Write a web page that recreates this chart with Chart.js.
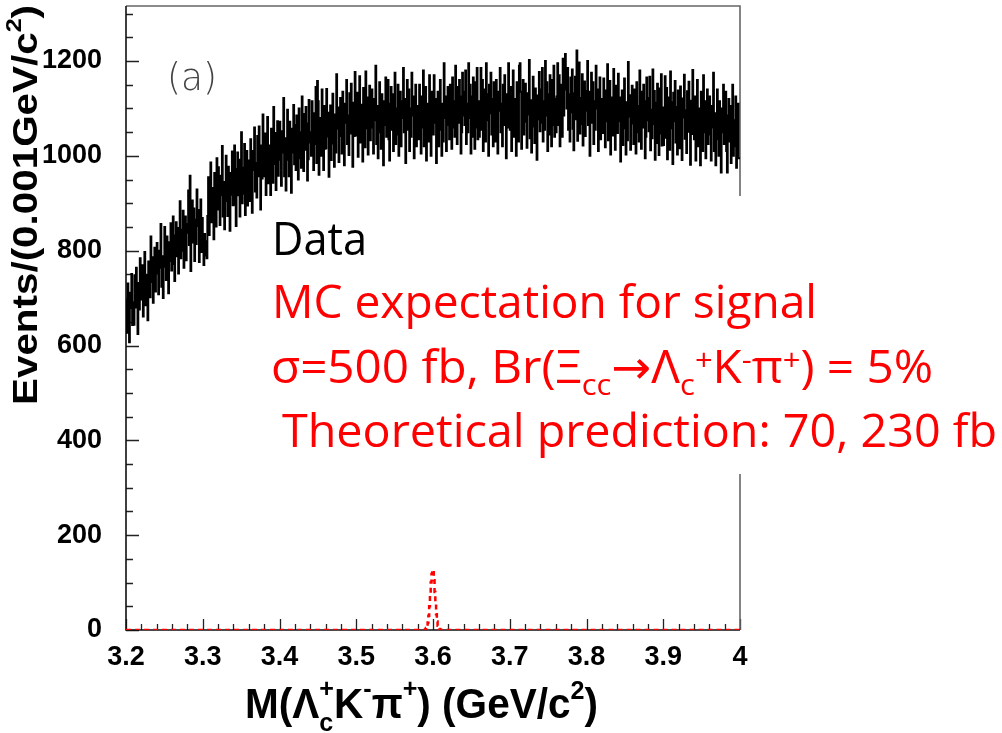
<!DOCTYPE html>
<html>
<head>
<meta charset="utf-8">
<script src="https://cdn.jsdelivr.net/npm/chart.js@4.4.1/dist/chart.umd.min.js"></script>
<style>
  html, body { margin: 0; padding: 0; background: #fff; }
  #wrap { position: relative; width: 1002px; height: 733px; }
</style>
</head>
<body>
<div id="wrap"><canvas id="c" width="1002" height="733"></canvas></div>
<script>
// Histogram binning: 1 MeV bins from 3.2 to 4.0 GeV/c^2
const massMin = 3.2;
const massMax = 4.0;
const binWidth = 0.001;

// Data: events per 1 MeV bin, M(Lambda_c+ K- pi+)
const dataCounts = [
  695, 627, 731, 667, 607, 711, 679, 751, 643, 691, 644, 748, 680, 764, 696, 624, 732, 676, 784, 700,
  697, 769, 661, 737, 797, 685, 749, 713, 653, 777, 758, 702, 830, 734, 786, 690, 766, 806, 714, 754,
  816, 752, 708, 800, 764, 856, 724, 788, 700, 780, 850, 766, 738, 830, 794, 710, 818, 778, 858, 758,
  800, 872, 772, 736, 832, 860, 788, 848, 752, 812, 904, 784, 844, 800, 884, 764, 836, 872, 780, 856,
  838, 927, 812, 958, 757, 834, 906, 817, 889, 778, 865, 814, 929, 852, 886, 776, 840, 908, 797, 869,
  812, 770, 835, 790, 820, 784, 873, 955, 833, 919, 986, 860, 932, 891, 824, 964, 914, 851, 995, 887,
  976, 904, 854, 958, 917, 1021, 872, 945, 845, 936, 1000, 905, 873, 977, 937, 842, 964, 918, 1009, 896,
  932, 1022, 897, 852, 972, 1007, 917, 992, 872, 947, 1050, 900, 975, 920, 1025, 875, 965, 1010, 895, 990,
  990, 905, 1035, 955, 880, 1010, 970, 1060, 925, 985, 912, 1042, 957, 1062, 977, 887, 1022, 952, 1087, 982,
  957, 1047, 912, 1007, 1082, 942, 1022, 977, 902, 1057, 1013, 943, 1103, 983, 1048, 928, 1023, 1073, 958, 1008,
  1072, 992, 937, 1052, 1007, 1122, 957, 1037, 927, 1027, 1097, 992, 957, 1072, 1027, 922, 1057, 1007, 1107, 982,
  1065, 970, 1085, 1040, 950, 1100, 995, 1050, 975, 1125, 1043, 968, 1088, 1013, 1103, 1068, 948, 993, 1118, 1028,
  1050, 1000, 1115, 1065, 970, 1090, 1025, 1145, 985, 1158, 1115, 960, 1035, 1080, 1000, 1140, 1065, 970, 1105, 1015,
  1016, 1141, 1041, 1091, 956, 1061, 1106, 991, 1026, 1131, 1077, 977, 1087, 1007, 1172, 1057, 1102, 987, 1042, 1122,
  1090, 1005, 1135, 1055, 980, 1110, 1070, 1160, 1025, 1085, 1002, 1132, 1047, 1152, 1067, 977, 1112, 1042, 1177, 1072,
  1043, 1133, 998, 1093, 1168, 1028, 1108, 1063, 988, 1143, 1088, 1018, 1178, 1058, 1123, 1003, 1098, 1148, 1033, 1083,
  1140, 1060, 1005, 1120, 1075, 1190, 1025, 1105, 995, 1095, 1155, 1050, 1015, 1130, 1085, 980, 1115, 1065, 1165, 1040,
  1070, 1160, 1035, 990, 1110, 1145, 1055, 1130, 1010, 1085, 1175, 1025, 1100, 1045, 1150, 1000, 1090, 1135, 1020, 1115,
  1080, 1185, 1050, 1120, 985, 1075, 1160, 1055, 1140, 1010, 1100, 1040, 1175, 1085, 1125, 995, 1070, 1150, 1020, 1105,
  1085, 1035, 1150, 1100, 1005, 1125, 1060, 1180, 1020, 1090, 1145, 990, 1065, 1110, 1030, 1170, 1095, 1000, 1135, 1045,
  1045, 1170, 1070, 1120, 985, 1090, 1135, 1020, 1055, 1160, 1100, 1000, 1110, 1030, 1195, 1080, 1125, 1010, 1065, 1145,
  1130, 1035, 1150, 1105, 1015, 1165, 1060, 1115, 1040, 1190, 1100, 1025, 1145, 1070, 1160, 1125, 1005, 1050, 1175, 1085,
  1135, 1065, 1180, 1025, 1110, 1050, 1195, 1080, 1150, 1005, 1125, 1040, 1165, 1100, 1015, 1155, 1060, 1185, 1035, 1115,
  1040, 1115, 1185, 1055, 1160, 1010, 1105, 1140, 1030, 1195, 1075, 1130, 1000, 1150, 1090, 1175, 1045, 1120, 1020, 1155,
  1115, 1030, 1160, 1080, 1005, 1135, 1095, 1185, 1050, 1110, 1020, 1150, 1065, 1170, 1085, 995, 1130, 1060, 1195, 1090,
  1055, 1145, 1010, 1105, 1180, 1040, 1120, 1075, 1000, 1155, 1100, 1030, 1190, 1195, 1135, 1015, 1110, 1160, 1045, 1095,
  1152, 1072, 1017, 1132, 1087, 1202, 1037, 1117, 1007, 1107, 1167, 1062, 1027, 1142, 1097, 992, 1127, 1077, 1177, 1052,
  1140, 1070, 1185, 1030, 1115, 1055, 1200, 1085, 1155, 1010, 1130, 1045, 1170, 1105, 1020, 1160, 1065, 1190, 1040, 1120,
  1050, 1125, 1195, 1065, 1170, 1020, 1115, 1150, 1040, 1205, 1085, 1140, 1215, 1160, 1100, 1185, 1055, 1130, 1030, 1165,
  1092, 1182, 1057, 1012, 1132, 1167, 1077, 1222, 1032, 1107, 1197, 1047, 1122, 1067, 1172, 1022, 1112, 1157, 1042, 1137,
  1095, 1200, 1065, 1135, 1000, 1090, 1175, 1070, 1155, 1025, 1115, 1055, 1190, 1100, 1140, 1010, 1085, 1165, 1035, 1120,
  1098, 1048, 1163, 1113, 1018, 1138, 1073, 1193, 1033, 1103, 1158, 1003, 1078, 1123, 1043, 1183, 1108, 1013, 1148, 1058,
  1048, 1173, 1073, 1123, 988, 1093, 1138, 1023, 1058, 1163, 1103, 1003, 1113, 1033, 1198, 1083, 1128, 1013, 1068, 1148,
  1120, 1025, 1140, 1095, 1005, 1155, 1050, 1105, 1030, 1180, 1090, 1015, 1135, 1060, 1150, 1115, 995, 1040, 1165, 1075,
  1122, 1052, 1167, 1012, 1097, 1037, 1182, 1067, 1137, 992, 1112, 1027, 1152, 1087, 1002, 1142, 1047, 1172, 1022, 1102,
  1023, 1098, 1168, 1038, 1143, 993, 1088, 1123, 1013, 1178, 1058, 1113, 983, 1133, 1073, 1158, 1028, 1103, 1003, 1138,
  1101, 1016, 1146, 1066, 991, 1121, 1081, 1171, 1036, 1096, 1006, 1136, 1051, 1156, 1071, 981, 1116, 1046, 1181, 1076,
  1035, 1125, 990, 1085, 1160, 1020, 1100, 1055, 980, 1135, 1080, 1010, 1170, 1050, 1115, 995, 1090, 1140, 1025, 1075,
  1125, 1045, 990, 1105, 1060, 1175, 1010, 1090, 980, 1080, 1140, 1035, 1000, 1115, 1070, 965, 1100, 1050, 1150, 1025,
  1045, 1135, 1010, 965, 1085, 1120, 1030, 1105, 985, 1060, 1150, 1000, 1075, 1020, 1125, 975, 1065, 1110, 995, 995
];

// MC signal expectation: non-empty bins start at 3.590 GeV (bin 390); all other bins are empty
const mcFirstBin = 390;
const mcCounts = [2, 4, 8, 16, 30, 50, 75, 100, 118, 127, 122, 105, 80, 55, 33, 18, 9, 4, 2, 1];

// Axis ranges and tick spacing
const yMax = 1316;
const yMajorStep = 200;
const yMinorStep = 50;
const xMajorStep = 0.1;
const xMinorStep = 0.02;

// Text
const yTitleRuns = [
  { text: 'Events/(0.001GeV/c' }, { text: '2', scale: 0.62, dy: -0.45 }, { text: ')' }
];
const xTitleRuns = [
  { text: 'M(\u039B' }, { text: '+', scale: 0.62, dy: -0.5 }, { text: 'c', scale: 0.62, dy: 0.3, stack: true },
  { text: 'K' }, { text: '-', scale: 0.62, dy: -0.5 }, { text: '\u03C0' }, { text: '+', scale: 0.62, dy: -0.5 },
  { text: ') (GeV/c' }, { text: '2', scale: 0.62, dy: -0.45 }, { text: ')' }
];
const panelTag = '(a)';
const legendData = 'Data';
const legendMC = 'MC expectation for signal';
const legendSigma = [
  { text: '\u03C3=500 fb, Br(\u039E' }, { text: 'cc', scale: 0.65, dy: 0.26 }, { text: '\u2192\u039B' },
  { text: 'c', scale: 0.65, dy: 0.26 }, { text: '+', scale: 0.65, dy: -0.28 }, { text: 'K' },
  { text: '-', scale: 0.65, dy: -0.28 }, { text: '\u03C0' }, { text: '+', scale: 0.65, dy: -0.28 },
  { text: ') = 5%' }
];
const legendTheory = 'Theoretical prediction: 70, 230 fb';

// Build step-histogram point lists (left bin edges plus the closing edge)
function histPoints(counts) {
  const pts = counts.map((v, i) => ({ x: massMin + i * binWidth, y: v }));
  pts.push({ x: massMax, y: counts[counts.length - 1] });
  return pts;
}
const mcFull = dataCounts.map((_, i) => {
  const k = i - mcFirstBin;
  return (k >= 0 && k < mcCounts.length) ? mcCounts[k] : 0;
});

const tickFont = '"Liberation Sans", Arial, Helvetica, sans-serif';
const noteFont = '"Open Sans", "Noto Sans", "DejaVu Sans", sans-serif';

// Draw a run of text pieces (with sub/superscripts), stretched horizontally to a given width
function richText(ctx, runs, x, y, width, size, family, weight, color, angle) {
  ctx.save();
  ctx.translate(x, y);
  if (angle) ctx.rotate(angle);
  ctx.fillStyle = color;
  ctx.textAlign = 'left';
  ctx.textBaseline = 'alphabetic';
  let pos = 0, lastX = 0, lastW = 0;
  const placed = runs.map(r => {
    const fs = size * (r.scale || 1);
    ctx.font = `${weight} ${fs}px ${family}`;
    const w = ctx.measureText(r.text).width;
    let rx;
    if (r.stack) {
      rx = lastX;
      const nw = Math.max(lastW, w);
      pos += nw - lastW;
      lastW = nw;
    } else {
      rx = pos; lastX = pos; lastW = w; pos += w;
    }
    return { text: r.text, fs, rx, dy: (r.dy || 0) * size };
  });
  const sx = width ? width / pos : 1;
  ctx.scale(sx, 1);
  placed.forEach(p => {
    ctx.font = `${weight} ${p.fs}px ${family}`;
    ctx.fillText(p.text, p.rx, p.dy);
  });
  ctx.restore();
}

// Frame and inward-pointing major/minor ticks, drawn under the histograms
const framePlugin = {
  id: 'frame',
  beforeDatasetsDraw(chart) {
    const ctx = chart.ctx;
    const { left, right, top, bottom } = chart.chartArea;
    const xs = chart.scales.x, ys = chart.scales.y;
    ctx.save();
    ctx.lineWidth = 1.3;
    ctx.strokeStyle = '#222';
    ctx.beginPath();
    for (let k = 0; k * yMinorStep <= yMax; k++) {
      const v = k * yMinorStep;
      const py = Math.round(ys.getPixelForValue(v)) + 0.5;
      const len = (v % yMajorStep === 0) ? 13 : 7;
      ctx.moveTo(left, py); ctx.lineTo(left + len, py);
    }
    const nx = Math.round((massMax - massMin) / xMinorStep);
    for (let k = 0; k <= nx; k++) {
      const px = Math.round(xs.getPixelForValue(massMin + k * xMinorStep)) + 0.5;
      const len = (k % 5 === 0) ? 11 : 6;
      ctx.moveTo(px, bottom); ctx.lineTo(px, bottom - len);
    }
    ctx.stroke();
    // top and right border
    ctx.strokeStyle = '#666';
    ctx.lineWidth = 1.6;
    ctx.beginPath();
    ctx.moveTo(left, top); ctx.lineTo(right, top); ctx.lineTo(right, bottom);
    ctx.stroke();
    // axes
    ctx.strokeStyle = '#111';
    ctx.lineWidth = 1.6;
    ctx.beginPath();
    ctx.moveTo(left, top); ctx.lineTo(left, bottom); ctx.lineTo(right, bottom);
    ctx.stroke();
    ctx.restore();
  }
};

// Legend box, panel tag and axis titles
const notesPlugin = {
  id: 'notes',
  afterDatasetsDraw(chart) {
    const ctx = chart.ctx;
    ctx.save();
    ctx.fillStyle = '#fff';
    ctx.fillRect(262, 196, 740, 278);
    ctx.restore();

    // panel tag
    richText(ctx, [{ text: panelTag }], 167, 90, 50, 37, '"DejaVu Sans", sans-serif', '200', '#444');

    // legend lines
    richText(ctx, [{ text: legendData }], 272, 255, 95, 46, noteFont, '400', '#000');
    richText(ctx, [{ text: legendMC }], 272, 318, 545, 46, noteFont, '400', '#ff0000');
    richText(ctx, legendSigma, 271, 383, 662, 46, noteFont, '400', '#ff0000');
    richText(ctx, [{ text: legendTheory }], 282, 447, 715, 46, noteFont, '400', '#ff0000');

    // axis titles
    richText(ctx, yTitleRuns, 37, 405, 400, 35, tickFont, 'bold', '#000', -Math.PI / 2);
    richText(ctx, xTitleRuns, 245, 718, 353, 42, tickFont, 'bold', '#000');
  }
};

const ctx = document.getElementById('c').getContext('2d');
new Chart(ctx, {
  type: 'line',
  data: {
    datasets: [
      {
        label: 'MC signal',
        data: histPoints(mcFull),
        borderColor: '#ff0000',
        borderWidth: 2.5,
        borderDash: [5, 4],
        stepped: 'before',
        pointRadius: 0,
        fill: false,
        order: 0
      },
      {
        label: 'Data',
        data: histPoints(dataCounts),
        borderColor: '#000000',
        borderWidth: 2,
        stepped: 'before',
        pointRadius: 0,
        fill: false,
        order: 1
      }
    ]
  },
  options: {
    responsive: false,
    animation: false,
    devicePixelRatio: 1,
    layout: { padding: { left: 0, top: 6, right: 262, bottom: 0 } },
    plugins: { legend: { display: false }, tooltip: { enabled: false } },
    scales: {
      x: {
        type: 'linear',
        min: massMin,
        max: massMax,
        grid: { display: false },
        border: { display: false },
        ticks: {
          stepSize: xMajorStep,
          autoSkip: false,
          maxRotation: 0,
          padding: 3,
          color: '#000',
          font: { family: tickFont, size: 27, weight: 'bold' },
          callback: v => (Math.abs(v - Math.round(v)) < 1e-9 ? String(Math.round(v)) : v.toFixed(1))
        },
        afterFit(scale) { scale.height = 103; scale.paddingLeft = 0; scale.paddingRight = 0; }
      },
      y: {
        type: 'linear',
        min: 0,
        max: yMax,
        grid: { display: false },
        border: { display: false },
        ticks: {
          stepSize: yMajorStep,
          includeBounds: false,
          padding: 16,
          color: '#000',
          font: { family: tickFont, size: 27, weight: 'bold' },
          callback: v => (v % yMajorStep === 0 ? String(v) : '')
        },
        afterFit(scale) { scale.width = 126; scale.paddingTop = 0; scale.paddingBottom = 0; }
      }
    }
  },
  plugins: [framePlugin, notesPlugin]
});
</script>
</body>
</html>
